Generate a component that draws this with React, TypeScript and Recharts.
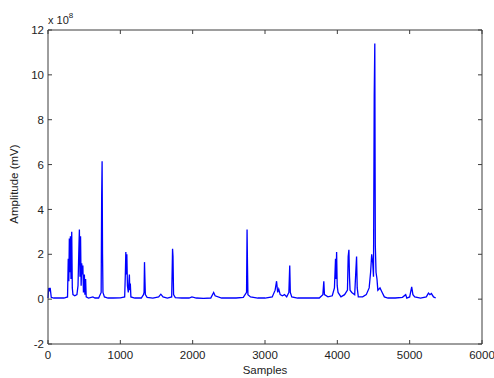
import { LineChart, Line, XAxis, YAxis, ReferenceLine } from 'recharts';

// sample index (x) and amplitude in units of 1e8 mV (y)
const SAMPLES = [
    0, 10, 20, 30, 45, 80, 150, 220, 270,
    280, 288, 295, 302, 310, 318, 328, 336, 345, 370, 400, 415, 425, 434, 442, 450, 458, 466, 474, 482, 490, 503, 510, 520, 528,
    560, 620, 650, 700, 735, 742, 748, 754, 760, 780, 830, 900, 1000,
    1060, 1070, 1076, 1082, 1090, 1098, 1110, 1125, 1131, 1138, 1146, 1200,
    1290, 1320, 1328, 1334, 1340, 1346, 1370, 1450, 1530, 1560, 1590, 1650,
    1710, 1722, 1728, 1736, 1760, 1850, 1950, 1990, 2050, 2150, 2250, 2290, 2310, 2400, 2500, 2600, 2700,
    2745, 2752, 2758, 2764, 2800, 2900, 3000, 3100, 3140, 3160, 3175, 3190, 3210, 3240, 3270, 3300,
    3330, 3342, 3350, 3370, 3450, 3550, 3650, 3750, 3800, 3813, 3822, 3870, 3930,
    3960, 3975, 3983, 3990, 3998, 4010, 4050, 4100, 4140, 4150, 4160, 4168, 4176, 4200,
    4240, 4255, 4266, 4275, 4290, 4350, 4400, 4440, 4460, 4475, 4490, 4500,
    4510, 4518, 4525, 4535, 4548, 4560, 4590, 4620, 4650, 4700, 4800, 4900, 4945, 4960,
    5000, 5028, 5045, 5070, 5150, 5230, 5260, 5280, 5300, 5330, 5360,
];

const AMPLITUDE = [
    0.05, 0.5, 0.35, 0.5, 0.08, 0.05, 0.06, 0.05, 0.1,
    1.8, 0.8, 2.7, 1.2, 2.8, 0.9, 3.0, 0.5, 0.2, 0.15, 0.2, 0.6, 2.0, 3.1, 1.0, 2.8, 0.6, 1.6, 1.1, 1.5, 0.3, 1.1, 0.2, 0.9, 0.1,
    0.05, 0.1, 0.05, 0.05, 0.3, 4.6, 6.15, 2.0, 0.3, 0.1, 0.05, 0.05, 0.06,
    0.1, 1.2, 2.1, 1.1, 2.0, 0.6, 0.3, 1.1, 0.4, 0.7, 0.1, 0.05,
    0.05, 0.2, 0.3, 1.65, 0.9, 0.2, 0.08, 0.05, 0.1, 0.22, 0.1, 0.05,
    0.1, 2.25, 1.9, 0.2, 0.07, 0.05, 0.05, 0.1, 0.05, 0.03, 0.05, 0.3, 0.15, 0.05, 0.05, 0.05, 0.08,
    0.3, 3.1, 1.5, 0.2, 0.1, 0.05, 0.05, 0.1, 0.4, 0.8, 0.3, 0.45, 0.2, 0.15, 0.2, 0.1,
    0.3, 1.5, 0.3, 0.1, 0.05, 0.05, 0.05, 0.05, 0.2, 0.8, 0.2, 0.1, 0.15,
    0.5, 1.8, 0.9, 2.1, 0.6, 0.3, 0.1, 0.2, 0.4, 1.9, 2.2, 1.0, 0.4, 0.3,
    0.2, 1.2, 1.9, 0.5, 0.1, 0.1, 0.2, 0.5, 1.2, 2.0, 1.6, 1.0,
    9.1, 11.4, 2.4, 1.2, 0.9, 0.4, 0.5, 0.3, 0.1, 0.05, 0.05, 0.08, 0.2, 0.05,
    0.1, 0.55, 0.2, 0.1, 0.05, 0.1, 0.27, 0.2, 0.25, 0.1, 0.05,
];

const X_TICKS = [0, 1000, 2000, 3000, 4000, 5000, 6000];
const Y_TICKS = [-2, 0, 2, 4, 6, 8, 10, 12];

const data = SAMPLES.map((s, i) => ({ sample: s, amp: AMPLITUDE[i] }));

const W = 494;
const H = 378;
const PLOT_TOP = 30;
const PLOT_RIGHT = 482;
const AXIS = '#3c3c3c';
const TEXT = '#222';
const FONT = '"Liberation Sans", Arial, Helvetica, sans-serif';

function XTick(props: any) {
    const { x, y, payload } = props;
    return (
        <g>
            <line x1={x} x2={x} y1={y} y2={y - 4} stroke={AXIS} />
            <line x1={x} x2={x} y1={PLOT_TOP} y2={PLOT_TOP + 4} stroke={AXIS} />
            <text x={x} y={y + 15} textAnchor="middle" fontSize={11.5} fill={TEXT} fontFamily={FONT}>
                {payload.value}
            </text>
        </g>
    );
}

function YTick(props: any) {
    const { x, y, payload } = props;
    return (
        <g>
            <line x1={x} x2={x + 4} y1={y} y2={y} stroke={AXIS} />
            <line x1={PLOT_RIGHT} x2={PLOT_RIGHT - 4} y1={y} y2={y} stroke={AXIS} />
            <text x={x - 4} y={y} dy="0.36em" textAnchor="end" fontSize={11.5} fill={TEXT} fontFamily={FONT}>
                {payload.value}
            </text>
        </g>
    );
}

export default function App() {
    return (
        <div style={{ position: 'absolute', left: 0, top: 0, width: W, height: H, background: '#fff' }}>
            <LineChart
                width={W}
                height={H}
                data={data}
                margin={{ top: PLOT_TOP, right: W - PLOT_RIGHT, left: 0, bottom: 0 }}
            >
                <XAxis
                    dataKey="sample"
                    type="number"
                    domain={[0, 6000]}
                    ticks={X_TICKS}
                    height={34}
                    tickSize={0}
                    tickMargin={0}
                    tickLine={false}
                    axisLine={{ stroke: AXIS }}
                    tick={XTick}
                    interval={0}
                />
                <YAxis
                    type="number"
                    domain={[-2, 12]}
                    ticks={Y_TICKS}
                    width={48}
                    tickSize={0}
                    tickMargin={0}
                    tickLine={false}
                    axisLine={{ stroke: AXIS }}
                    tick={YTick}
                    interval={0}
                />
                <ReferenceLine y={12} stroke={AXIS} />
                <ReferenceLine x={6000} stroke={AXIS} />
                <Line
                    type="linear"
                    dataKey="amp"
                    stroke="#0000ff"
                    strokeWidth={1.3}
                    dot={false}
                    isAnimationActive={false}
                />
            </LineChart>
            <svg width={W} height={H} style={{ position: 'absolute', left: 0, top: 0, pointerEvents: 'none' }}>
                <text x={48} y={24} fontSize={11} fill={TEXT} fontFamily={FONT}>
                    x 10
                    <tspan fontSize={8} dy={-6}>8</tspan>
                </text>
                <text x={265} y={374} textAnchor="middle" fontSize={11.5} fill={TEXT} fontFamily={FONT}>
                    Samples
                </text>
                <text
                    x={14}
                    y={184}
                    transform="rotate(-90 14 184)"
                    textAnchor="middle"
                    dy="0.35em"
                    fontSize={11.5}
                    fill={TEXT}
                    fontFamily={FONT}
                >
                    Amplitude (mV)
                </text>
            </svg>
        </div>
    );
}
